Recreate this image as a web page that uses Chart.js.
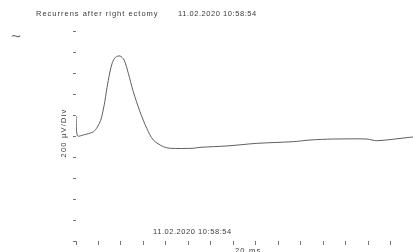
<!DOCTYPE html>
<html>
<head>
<meta charset="utf-8">
<script src="https://cdn.jsdelivr.net/npm/chart.js@4/dist/chart.umd.min.js"></script>
<style>
  body { margin: 0; background: #fff; }
  canvas { display: block; }
</style>
</head>
<body>
<canvas id="emg" width="413" height="252"></canvas>
<script>
// time in divisions (20 ms per div), amplitude in µV (200 µV per div)
const tiempoDiv = [0, 0.06, 0.33, 0.77, 0.95, 1.1, 1.25, 1.38, 1.5, 1.62, 1.76, 1.96, 2.14, 2.33, 2.55, 2.85, 3.15, 3.44, 3.89, 4.19, 5.21, 5.52, 6.71, 8.05, 9.67, 10.42, 11.45, 12.95, 13.39, 14.88, 15];
const amplitudUv = [190, 3, 10, 40, 85, 150, 290, 460, 600, 700, 750, 762, 724, 597, 422, 231, 73, -38, -102, -117, -117, -108, -95, -70, -54, -38, -29, -29, -45, -12, -10];

const titulo = 'Recurrens after right ectomy';
const fechaHora = '11.02.2020 10:58:54';
const etiquetaY = '200 µV/Div';
const etiquetaX = '20 ms';

const textos = {
    id: 'textos',
    afterDraw(chart) {
        const c = chart.ctx;
        const area = chart.chartArea;
        c.save();
        c.fillStyle = '#3a3a3a';
        c.textBaseline = 'middle';
        c.font = '7.5px "Liberation Sans", Arial, sans-serif';

        c.letterSpacing = '1px';
        c.fillText(titulo, 36, 13.5);
        c.letterSpacing = '0.55px';
        c.fillText(fechaHora, 178, 13.5);

        // fecha dentro del gráfico
        c.fillText(fechaHora, 153, area.bottom - 9);

        // eje x
        c.letterSpacing = '1.2px';
        c.textBaseline = 'top';
        c.fillText(etiquetaX, 235, 247);

        // eje y, rotado
        c.save();
        c.translate(64, (area.top + area.bottom) / 2 - 3);
        c.rotate(-Math.PI / 2);
        c.textAlign = 'center';
        c.textBaseline = 'middle';
        c.fillText(etiquetaY, 0, 0);
        c.restore();

        // simbolo de forma de onda
        c.letterSpacing = '0px';
        c.font = '17px "Liberation Sans", Arial, sans-serif';
        c.textBaseline = 'middle';
        c.fillStyle = '#6a6a6a';
        c.fillText('~', 11, 37);
        c.restore();
    }
};

new Chart(document.getElementById('emg'), {
    type: 'line',
    data: {
        datasets: [{
            data: tiempoDiv.map((t, i) => ({ x: t, y: amplitudUv[i] })),
            borderColor: '#5e5e5e',
            borderWidth: 1,
            pointRadius: 0,
            tension: 0.3
        }]
    },
    options: {
        responsive: false,
        animation: false,
        devicePixelRatio: 1,
        layout: { padding: { top: 31, left: 72, right: 0, bottom: 7 } },
        plugins: { legend: { display: false }, tooltip: { enabled: false } },
        scales: {
            x: {
                type: 'linear', min: 0, max: 15,
                ticks: { stepSize: 1, display: false },
                grid: { drawOnChartArea: false, tickLength: 4, color: '#777' },
                border: { display: false },
                afterFit: s => { s.height = 4; }
            },
            y: {
                min: -1000, max: 1000,
                ticks: { stepSize: 200, display: false },
                grid: { drawOnChartArea: false, tickLength: 3, color: '#777' },
                border: { display: false },
                afterFit: s => { s.width = 4; }
            }
        }
    },
    plugins: [textos]
});
</script>
</body>
</html>
